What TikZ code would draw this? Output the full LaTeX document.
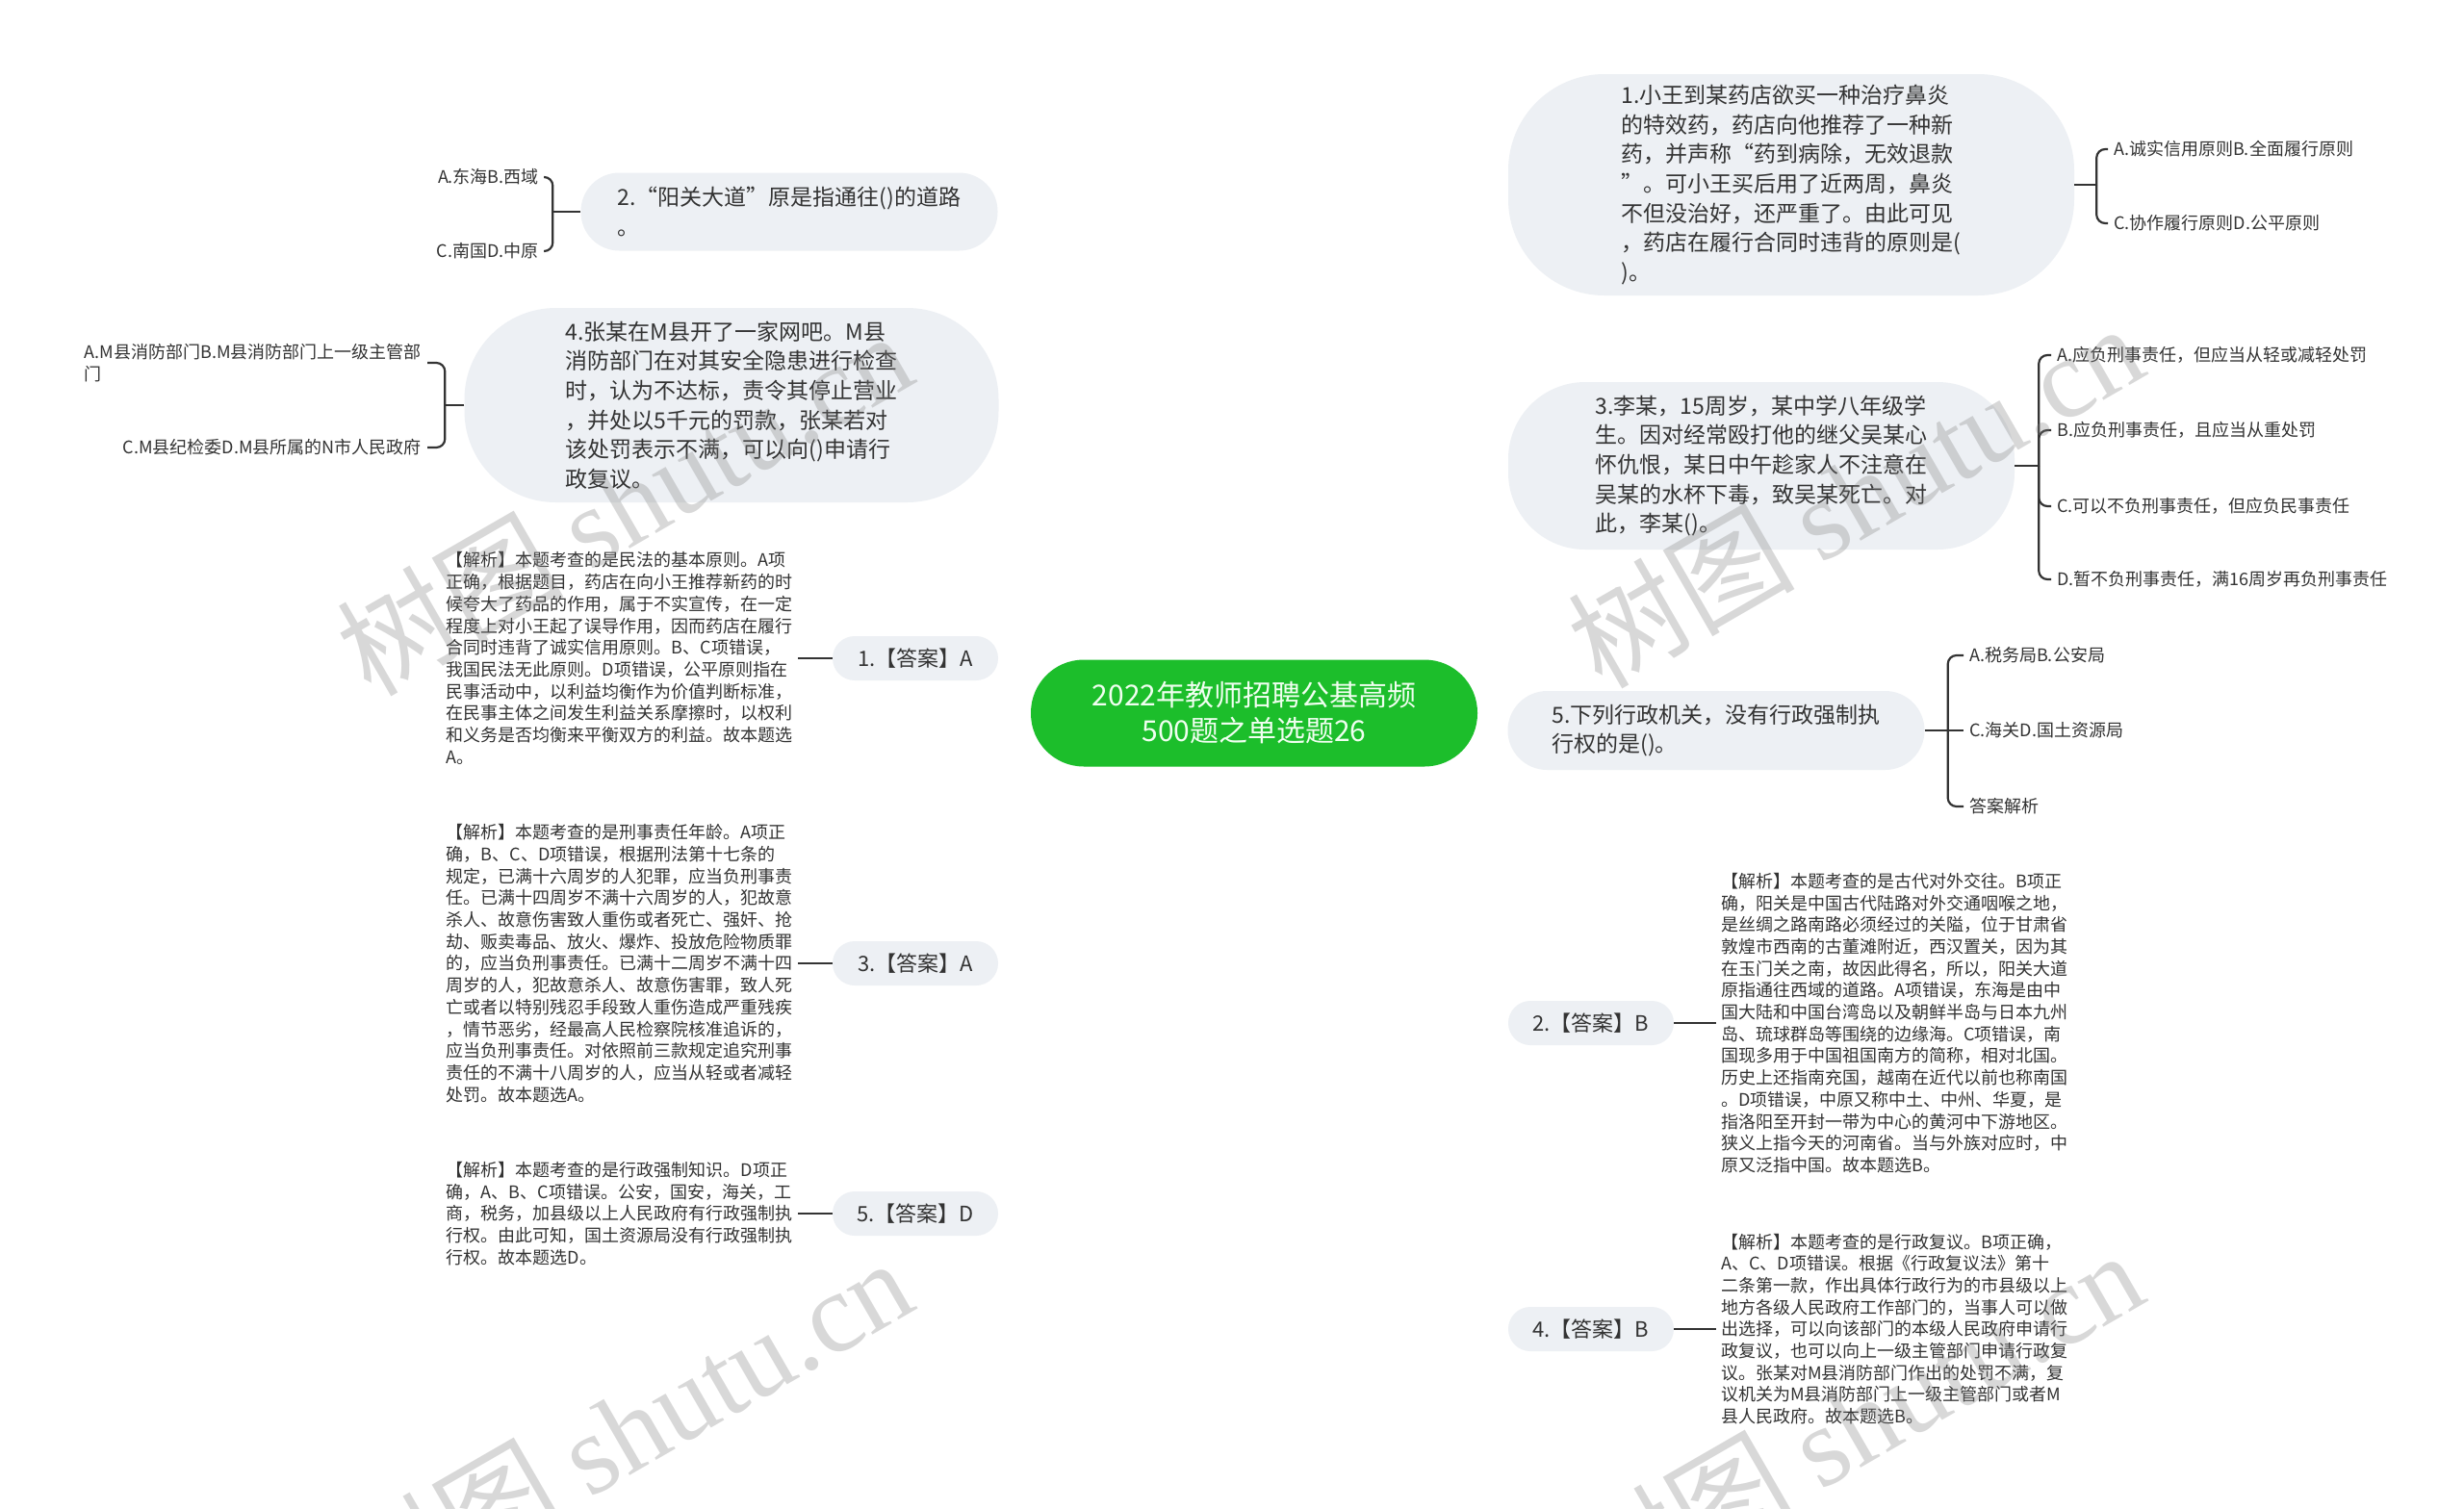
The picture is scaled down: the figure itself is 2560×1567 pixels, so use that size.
\documentclass[tikz,border=0pt]{standalone}
\usepackage{fontspec}
\setmainfont{Noto Sans CJK SC}
\newfontfamily\wmserif{Liberation Serif}
\usetikzlibrary{backgrounds,calc}
\definecolor{bubblefill}{HTML}{EDF0F4}
\definecolor{rootg}{HTML}{1CBE2B}
\definecolor{roott}{HTML}{F0FFF0}
\definecolor{linec}{HTML}{333333}
\definecolor{txt}{HTML}{333333}
\newcommand\rfont{\fontsize{30pt}{37pt}\selectfont}
\newcommand\qfont{\fontsize{23pt}{30.6pt}\selectfont}
\newcommand\afont{\fontsize{22pt}{28pt}\selectfont}
\newcommand\ofont{\fontsize{18pt}{23pt}\selectfont}
\newcommand\efont{\fontsize{18pt}{22.7pt}\selectfont}
\tikzset{
  rootnode/.style={fill=rootg, text=roott, font=\rfont, align=center, inner sep=0pt,
    minimum width=464pt, minimum height=111pt, rounded corners=55pt},
  bub/.style={fill=bubblefill, text=txt, font=\qfont, align=left, inner sep=0pt},
  ansbub/.style={fill=bubblefill, text=txt, font=\afont, align=center, inner sep=0pt,
    minimum width=172pt, minimum height=46pt, rounded corners=23pt},
  opt/.style={text=txt, font=\ofont, align=left, inner sep=2pt},
  expl/.style={text=txt, font=\efont, align=left, inner sep=2pt},
  conn/.style={draw=linec, line width=2.6pt},
  brk/.style={draw=linec, line width=2.2pt, rounded corners=9pt},
  brkopt/.style={brk, shorten >=4pt},
  wm/.style={text=gray, text opacity=0.3, font=\fontsize{118pt}{120pt}\selectfont, rotate=30, inner sep=0pt}
}
\begin{document}
\begin{tikzpicture}[x=1pt,y=-1pt]
\useasboundingbox (0,0) rectangle (2560,1567);
\fill[white] (0,0) rectangle (2560,1567);

% root
\node[rootnode] (root) at (1303,741) {2022年教师招聘公基高频\\500题之单选题26};

% right side questions
\node[bub, minimum width=588pt, minimum height=230pt, rounded corners=100pt] (q1) at (1861,192)
 {1.小王到某药店欲买一种治疗鼻炎\\
的特效药，药店向他推荐了一种新\\
药，并声称“药到病除，无效退款\\
”。可小王买后用了近两周，鼻炎\\
不但没治好，还严重了。由此可见\\
，药店在履行合同时违背的原则是(\\
)。};
\node[bub, minimum width=526pt, minimum height=174pt, rounded corners=80pt] (q3) at (1830,484)
 {3.李某，15周岁，某中学八年级学\\
生。因对经常殴打他的继父吴某心\\
怀仇恨，某日中午趁家人不注意在\\
吴某的水杯下毒，致吴某死亡。对\\
此，李某()。};
\node[bub, minimum width=433pt, minimum height=82pt, rounded corners=41pt] (q5) at (1783,759)
 {5.下列行政机关，没有行政强制执\\
行权的是()。};
\node[ansbub] (a2) at (1653,1063) {2.【答案】B};
\node[ansbub] (a4) at (1653,1381) {4.【答案】B};

% left side questions
\node[bub, minimum width=433pt, minimum height=81pt, rounded corners=40pt] (q2) at (820,220)
 {2.“阳关大道”原是指通往()的道路\\
。};
\node[bub, minimum width=555pt, minimum height=202pt, rounded corners=95pt] (q4) at (760,421)
 {4.张某在M县开了一家网吧。M县\\
消防部门在对其安全隐患进行检查\\
时，认为不达标，责令其停止营业\\
，并处以5千元的罚款，张某若对\\
该处罚表示不满，可以向()申请行\\
政复议。};
\node[ansbub] (a1) at (951,684) {1.【答案】A};
\node[ansbub] (a3) at (951,1001) {3.【答案】A};
\node[ansbub] (a5) at (951,1261) {5.【答案】D};

% options right
\node[opt, anchor=west] (q1a) at (2194,155) {A.诚实信用原则B.全面履行原则};
\node[opt, anchor=west] (q1c) at (2194,232) {C.协作履行原则D.公平原则};
\node[opt, anchor=west] (q3a) at (2135,369) {A.应负刑事责任，但应当从轻或减轻处罚};
\node[opt, anchor=west] (q3b) at (2135,447) {B.应负刑事责任，且应当从重处罚};
\node[opt, anchor=west] (q3c) at (2135,526) {C.可以不负刑事责任，但应负民事责任};
\node[opt, anchor=west] (q3d) at (2135,602) {D.暂不负刑事责任，满16周岁再负刑事责任};
\node[opt, anchor=west] (q5a) at (2044,681) {A.税务局B.公安局};
\node[opt, anchor=west] (q5c) at (2044,759) {C.海关D.国土资源局};
\node[opt, anchor=west] (q5e) at (2044,838) {答案解析};

% options left
\node[opt, anchor=east] (q2a) at (562,184) {A.东海B.西域};
\node[opt, anchor=east] (q2c) at (562,261) {C.南国D.中原};
\node[opt, anchor=east] (q4a) at (440,377) {A.M县消防部门B.M县消防部门上一级主管部\\门};
\node[opt, anchor=east] (q4c) at (440,465) {C.M县纪检委D.M县所属的N市人民政府};

% explanations right
\node[expl, anchor=west] (e2) at (1786,1063) {【解析】本题考查的是古代对外交往。B项正\\
确，阳关是中国古代陆路对外交通咽喉之地，\\
是丝绸之路南路必须经过的关隘，位于甘肃省\\
敦煌市西南的古董滩附近，西汉置关，因为其\\
在玉门关之南，故因此得名，所以，阳关大道\\
原指通往西域的道路。A项错误，东海是由中\\
国大陆和中国台湾岛以及朝鲜半岛与日本九州\\
岛、琉球群岛等围绕的边缘海。C项错误，南\\
国现多用于中国祖国南方的简称，相对北国。\\
历史上还指南充国，越南在近代以前也称南国\\
。D项错误，中原又称中土、中州、华夏，是\\
指洛阳至开封一带为中心的黄河中下游地区。\\
狭义上指今天的河南省。当与外族对应时，中\\
原又泛指中国。故本题选B。};
\node[expl, anchor=west] (e4) at (1786,1381) {【解析】本题考查的是行政复议。B项正确，\\
A、C、D项错误。根据《行政复议法》第十\\
二条第一款，作出具体行政行为的市县级以上\\
地方各级人民政府工作部门的，当事人可以做\\
出选择，可以向该部门的本级人民政府申请行\\
政复议，也可以向上一级主管部门申请行政复\\
议。张某对M县消防部门作出的处罚不满，复\\
议机关为M县消防部门上一级主管部门或者M\\
县人民政府。故本题选B。};

% explanations left
\node[expl, anchor=east] (e1) at (826,684) {【解析】本题考查的是民法的基本原则。A项\\
正确，根据题目，药店在向小王推荐新药的时\\
候夸大了药品的作用，属于不实宣传，在一定\\
程度上对小王起了误导作用，因而药店在履行\\
合同时违背了诚实信用原则。B、C项错误，\\
我国民法无此原则。D项错误，公平原则指在\\
民事活动中，以利益均衡作为价值判断标准，\\
在民事主体之间发生利益关系摩擦时，以权利\\
和义务是否均衡来平衡双方的利益。故本题选\\
A。};
\node[expl, anchor=east] (e3) at (826,1001) {【解析】本题考查的是刑事责任年龄。A项正\\
确，B、C、D项错误，根据刑法第十七条的\\
规定，已满十六周岁的人犯罪，应当负刑事责\\
任。已满十四周岁不满十六周岁的人，犯故意\\
杀人、故意伤害致人重伤或者死亡、强奸、抢\\
劫、贩卖毒品、放火、爆炸、投放危险物质罪\\
的，应当负刑事责任。已满十二周岁不满十四\\
周岁的人，犯故意杀人、故意伤害罪，致人死\\
亡或者以特别残忍手段致人重伤造成严重残疾\\
，情节恶劣，经最高人民检察院核准追诉的，\\
应当负刑事责任。对依照前三款规定追究刑事\\
责任的不满十八周岁的人，应当从轻或者减轻\\
处罚。故本题选A。};
\node[expl, anchor=east] (e5) at (826,1261) {【解析】本题考查的是行政强制知识。D项正\\
确，A、B、C项错误。公安，国安，海关，工\\
商，税务，加县级以上人民政府有行政强制执\\
行权。由此可知，国土资源局没有行政强制执\\
行权。故本题选D。};

\begin{pgfonlayer}{background}
% root connectors
\foreach \t in {q1,q3,q5,a2,a4}
  \draw[conn] (root.center) .. controls (root.center |- \t.west) .. (\t.west);
\foreach \t in {q2,q4,a1,a3,a5}
  \draw[conn] (root.center) .. controls (root.center |- \t.east) .. (\t.east);
\end{pgfonlayer}

% answer to explanation
\draw[conn, shorten >=3pt] (a2.east) -- (e2.west);
\draw[conn, shorten >=3pt] (a4.east) -- (e4.west);
\draw[conn, shorten >=3pt] (a1.west) -- (e1.east);
\draw[conn, shorten >=3pt] (a3.west) -- (e3.east);
\draw[conn, shorten >=3pt] (a5.west) -- (e5.east);

% brackets
\coordinate (j1) at ($(q1.east)+(23,0)$);
\draw[brk] (q1.east) -- (j1);
\draw[brkopt] (j1) |- (q1a.west);
\draw[brkopt] (j1) |- (q1c.west);

\coordinate (j3) at ($(q3.east)+(25,0)$);
\draw[brk] (q3.east) -- (j3);
\foreach \o in {q3a,q3b,q3c,q3d} \draw[brkopt] (j3) |- (\o.west);

\coordinate (j5) at ($(q5.east)+(24,0)$);
\draw[brk] (q5.east) -- (j5);
\draw[brkopt] (j5) |- (q5a.west);
\draw[brkopt] (j5) -- (q5c.west);
\draw[brkopt] (j5) |- (q5e.west);

\coordinate (j2) at ($(q2.west)+(-29,0)$);
\draw[brk] (q2.west) -- (j2);
\draw[brkopt] (j2) |- (q2a.east);
\draw[brkopt] (j2) |- (q2c.east);

\coordinate (j4) at ($(q4.west)+(-20,0)$);
\draw[brk] (q4.west) -- (j4);
\draw[brkopt] (j4) |- (q4a.east);
\draw[brkopt] (j4) |- (q4c.east);

% watermarks
\node[wm] (wm1) at (648,522) {树图 {\wmserif shutu.cn}};
\node[wm] (wm2) at (1927,514) {树图 {\wmserif shutu.cn}};
\node[wm] (wm3) at (648,1485) {树图 {\wmserif shutu.cn}};
\node[wm] (wm4) at (1927,1477) {树图 {\wmserif shutu.cn}};
\end{tikzpicture}
\end{document}
